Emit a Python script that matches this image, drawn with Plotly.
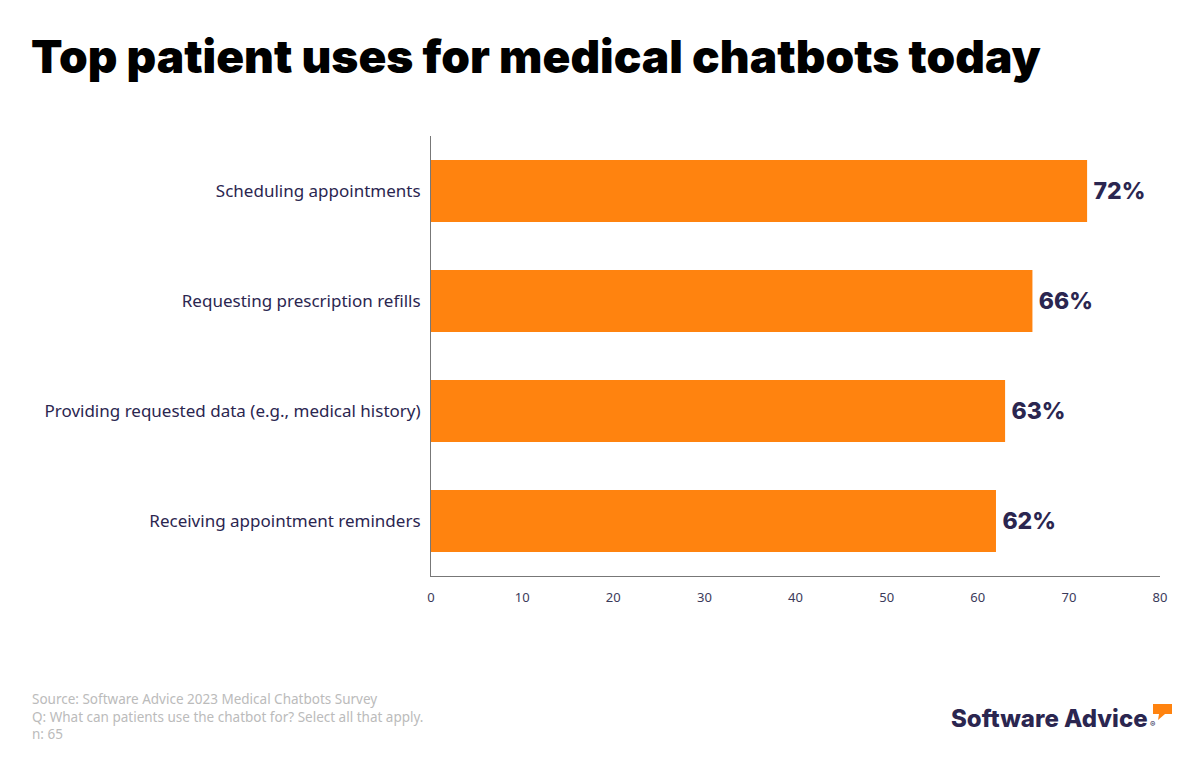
import plotly.graph_objects as go

categories = ["Scheduling appointments", "Requesting prescription refills",
              "Providing requested data (e.g., medical history)", "Receiving appointment reminders"]
values = [72, 66, 63, 62]
tick_vals = [0, 10, 20, 30, 40, 50, 60, 70, 80]
labels = [f"\u2009{v}%" for v in values]

NAVY = "#2B2650"
ORANGE = "#FF830F"

# plot area in screen coords: x 431..1160, y 136..576
def px(X):
    return (X - 431) / 729

def py(Y):
    return (576 - Y) / 440

fig = go.Figure(go.Bar(
    y=categories, x=values, orientation="h",
    marker=dict(color=ORANGE, line=dict(width=0)),
    text=labels, textposition="outside", cliponaxis=False,
    textfont=dict(family="Inter", size=23, color=NAVY, weight=800),
))

fig.update_layout(
    width=1200, height=775,
    margin=dict(l=423, r=48, t=128, b=207),
    paper_bgcolor="white", plot_bgcolor="white",
    bargap=0.436,
    showlegend=False,
    title=dict(text="Top patient uses for medical chatbots today",
               font=dict(family="Inter", size=46, color="#000000", weight=900),
               x=(31 - 8) / 1200, xanchor="left", xref="container",
               y=1 - (57 - 8) / 775, yanchor="middle", yref="container"),
    xaxis=dict(range=[0, 80], tickvals=tick_vals, showgrid=False, zeroline=False,
               showline=True, linecolor="#777777", linewidth=1, ticks="", ticklabelstandoff=9,
               tickfont=dict(family="Noto Sans", size=13, color="#3B3A5A")),
    yaxis=dict(autorange="reversed", showgrid=False, zeroline=False,
               showline=True, linecolor="#777777", linewidth=1, ticks="", ticklabelstandoff=6,
               tickfont=dict(family="Noto Sans", size=17, color=NAVY)),
)

fig.add_annotation(
    text="Source: Software Advice 2023 Medical Chatbots Survey<br>Q: What can patients use the chatbot for? Select all that apply.<br>n: 65",
    xref="paper", yref="paper", x=px(30), y=py(745), xanchor="left", yanchor="bottom",
    showarrow=False, align="left",
    font=dict(family="Noto Sans", size=13.5, color="#BBBBBB"),
)

fig.add_annotation(
    text="Software Advice", xref="paper", yref="paper",
    x=px(1150), y=py(718), xanchor="right", yanchor="middle",
    showarrow=False, font=dict(family="Inter", size=24, color=NAVY, weight=800),
)
fig.add_annotation(
    text="®", xref="paper", yref="paper",
    x=px(1157), y=py(724), xanchor="right", yanchor="middle",
    showarrow=False, font=dict(family="Inter", size=8, color=NAVY),
)
fig.add_shape(type="path", xref="paper", yref="paper",
              path=f"M {px(1153)} {py(704)} L {px(1172)} {py(704)} L {px(1172)} {py(714)} "
                   f"L {px(1165)} {py(714)} L {px(1158)} {py(720)} L {px(1159)} {py(714)} "
                   f"L {px(1153)} {py(714)} Z",
              fillcolor=ORANGE, line=dict(width=0))

fig.write_html("out.html")
